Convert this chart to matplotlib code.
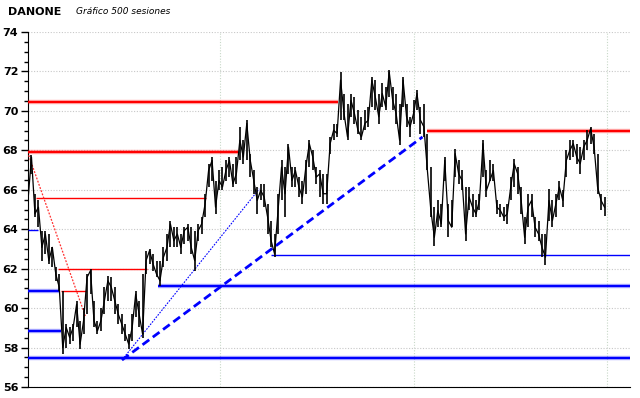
import numpy as np
import matplotlib.pyplot as plt

# === Cotizacion DANONE (una lectura cada 3 sesiones) ===
cierre = [65.46, 67.66, 64.78, 65.12, 63.08, 63.76, 62.41, 63.08, 61.73, 61.05,
          58.00, 59.02, 58.51, 59.02, 60.20, 58.17, 59.36, 61.56, 61.90, 59.36,
          58.85, 59.36, 60.37, 61.39, 61.05, 60.37, 59.69, 59.19, 58.68, 58.17,
          59.02, 60.71, 59.69, 58.68, 62.41, 62.92, 62.24, 61.73, 61.39, 62.58,
          63.08, 64.27, 63.42, 63.76, 63.08, 63.93, 64.10, 63.08, 62.41, 63.93,
          64.27, 65.29, 66.98, 67.49, 65.12, 66.47, 66.14, 66.98, 67.49, 66.30,
          66.81, 68.51, 67.66, 69.36, 67.49, 66.47, 65.46, 65.97, 65.63, 64.61,
          63.42, 62.75, 64.95, 67.15, 65.80, 68.17, 66.47, 66.98, 66.14, 65.63,
          67.15, 68.34, 67.66, 66.64, 66.81, 65.80, 65.80, 68.34, 69.02, 68.85,
          71.56, 69.86, 68.68, 70.54, 69.86, 69.02, 68.68, 69.36, 69.53, 71.56,
          70.71, 69.70, 70.88, 70.20, 71.98, 70.54, 69.86, 68.51, 71.56, 69.70,
          69.19, 69.86, 70.88, 69.53, 69.19, 66.98, 64.95, 63.59, 64.95, 64.27,
          67.49, 64.44, 64.10, 67.83, 66.81, 66.47, 63.76, 65.63, 65.12, 64.78,
          65.46, 68.34, 65.97, 66.47, 66.98, 65.12, 64.95, 64.61, 64.78, 66.14,
          67.32, 66.81, 65.46, 63.59, 65.12, 65.46, 64.10, 63.76, 63.08, 62.58,
          65.46, 64.44, 65.29, 66.14, 65.46, 67.49, 68.00, 68.34, 67.66, 67.32,
          68.17, 68.51, 69.10, 68.17, 66.14, 65.46, 65.12]

maximo = [66.14, 67.75, 65.80, 65.46, 63.93, 63.93, 63.76, 63.08, 62.07, 61.73,
          60.88, 59.19, 59.02, 59.19, 60.37, 59.36, 60.03, 61.73, 61.98, 60.37,
          59.36, 60.03, 61.05, 61.64, 61.56, 61.05, 60.20, 59.69, 59.19, 58.68,
          59.69, 60.88, 60.37, 61.73, 62.92, 63.00, 62.75, 62.41, 62.41, 63.08,
          63.76, 64.44, 64.10, 64.10, 63.76, 64.10, 64.27, 64.10, 63.93, 64.27,
          64.61, 65.80, 67.32, 67.66, 66.47, 66.98, 67.15, 67.49, 67.66, 67.32,
          67.66, 69.19, 68.51, 69.53, 67.83, 66.98, 66.14, 66.30, 66.30, 65.29,
          64.44, 63.76, 65.80, 67.49, 67.15, 68.34, 67.15, 67.15, 66.64, 66.47,
          67.49, 68.51, 68.00, 67.15, 66.98, 66.81, 66.81, 68.68, 69.36, 69.36,
          71.98, 70.88, 70.37, 70.88, 70.71, 70.03, 69.70, 70.03, 70.20, 71.73,
          71.56, 70.88, 71.39, 71.22, 72.07, 71.22, 70.88, 70.37, 71.73, 70.37,
          69.70, 70.54, 71.05, 70.20, 70.37, 68.85, 67.15, 65.12, 65.46, 65.29,
          67.66, 65.29, 65.46, 68.08, 67.49, 66.98, 66.14, 66.14, 65.80, 65.46,
          65.80, 68.51, 66.98, 67.49, 67.32, 65.46, 65.29, 65.12, 65.29, 66.64,
          67.58, 67.15, 66.14, 64.61, 65.80, 65.80, 64.61, 64.44, 63.76, 63.76,
          66.05, 65.46, 65.80, 66.47, 65.97, 68.00, 68.51, 68.51, 68.34, 68.17,
          68.51, 69.02, 69.19, 68.85, 67.83, 65.80, 65.63]

minimo = [64.61, 66.81, 64.61, 64.10, 62.41, 62.75, 62.24, 62.07, 61.39, 60.88,
          57.66, 58.00, 58.17, 58.34, 59.02, 57.92, 58.68, 59.69, 60.71, 59.02,
          58.68, 58.85, 59.69, 60.37, 60.37, 59.69, 59.19, 58.68, 58.34, 57.92,
          58.34, 59.53, 59.02, 58.51, 61.73, 62.24, 61.90, 61.56, 61.14, 62.07,
          62.41, 63.08, 63.08, 63.08, 62.75, 63.25, 63.42, 62.75, 61.90, 63.42,
          63.76, 64.61, 66.14, 66.47, 64.78, 65.97, 65.97, 66.47, 66.64, 66.14,
          66.30, 67.49, 67.32, 67.49, 66.64, 65.80, 64.78, 65.46, 65.12, 63.76,
          63.08, 62.58, 63.76, 65.46, 64.61, 66.81, 66.14, 66.14, 65.63, 65.29,
          65.80, 67.15, 66.98, 66.30, 65.63, 65.29, 65.29, 67.83, 68.51, 68.68,
          69.53, 69.53, 68.51, 69.70, 69.36, 68.85, 68.51, 69.02, 69.19, 70.20,
          70.03, 69.36, 70.20, 70.03, 70.71, 70.03, 69.36, 68.25, 70.20, 69.19,
          68.68, 69.36, 70.03, 68.85, 68.68, 66.98, 64.61, 63.17, 64.10, 64.10,
          66.47, 63.59, 64.10, 66.64, 66.30, 65.97, 63.42, 64.95, 64.61, 64.61,
          64.95, 66.64, 65.63, 66.47, 66.47, 64.78, 64.61, 64.44, 64.27, 65.46,
          66.14, 65.80, 64.78, 63.25, 64.10, 64.61, 63.59, 63.42, 62.58, 62.20,
          64.44, 64.10, 64.61, 65.46, 65.12, 66.64, 67.49, 67.66, 67.32, 66.81,
          67.49, 68.00, 68.34, 67.83, 65.80, 64.95, 64.69]
sesiones = np.arange(len(cierre)) * 3

# === Resistencias (nivel, sesion inicio, sesion fin, grueso) ===
res_nivel = [70.47, 67.90, 65.56, 61.97, 60.88, 69.00]
res_ini   = [0, 0, 7, 26, 28.5, 345]
res_fin   = [268, 181, 154, 103, 50, 520]
res_grueso = [True, True, False, False, False, True]

# === Soportes ===
sop_nivel = [57.49, 58.85, 60.88, 63.97, 61.12, 62.71]
sop_ini   = [0, 0, 0, 0, 112.5, 210]
sop_fin   = [520, 28.5, 27, 8.4, 520, 520]
sop_grueso = [True, True, True, False, True, False]

# === Directrices ===
bajista_x = [0.6, 49.5]
bajista_y = [67.75, 59.6]
alcista_x = [81.2, 340.8]
alcista_y = [57.37, 68.68]
alcista2_x = [81.2, 199.8]
alcista2_y = [57.37, 66.05]

rojo = "#ff0000"
azul = "#0000ff"

fig = plt.figure(figsize=(6.4, 3.98), dpi=100)
ax = fig.add_axes([0.04375, 0.0276, 0.9406, 0.892])

def nivel(y, x0, x1, color, grueso):
    if grueso:
        ax.hlines(y, x0, x1, color=color, lw=3.2, alpha=0.3, zorder=3)
        ax.hlines(y, x0, x1, color=color, lw=1.6, zorder=4)
    else:
        ax.hlines(y, x0, x1, color=color, lw=1.0, zorder=4)

for y, a, b, g in zip(res_nivel, res_ini, res_fin, res_grueso):
    nivel(y, a, b, rojo, g)
for y, a, b, g in zip(sop_nivel, sop_ini, sop_fin, sop_grueso):
    nivel(y, a, b, azul, g)

ax.plot(bajista_x, bajista_y, color="#ff3030", lw=0.9, ls=(0, (1.5, 1.2)), zorder=4)
ax.plot(alcista_x, alcista_y, color=azul, lw=2.0, ls=(0, (3, 1.6)), zorder=4)
ax.plot(alcista2_x, alcista2_y, color=azul, lw=0.8, ls=(0, (1.5, 1.2)), zorder=4)

# barras maximo-minimo y linea de cierre
ax.vlines(sesiones, minimo, maximo, color="black", lw=1.2, zorder=5)
ax.plot(sesiones, cierre, color="black", lw=0.9, zorder=5)

ax.set_xlim(0, 520)
ax.set_ylim(56, 74)
ax.set_yticks(np.arange(56, 75, 2))
ax.set_yticks(np.arange(56, 74.1, 0.5), minor=True)
ax.set_xticks([166, 333, 500])
ax.set_xticklabels([])
ax.tick_params(axis="x", length=0)
ax.tick_params(axis="y", which="major", length=5, width=1, pad=2, labelsize=8)
ax.tick_params(axis="y", which="minor", length=3, width=1)
for lab in ax.get_yticklabels():
    lab.set_fontweight("bold")

ax.grid(axis="y", which="major", color="#c8c8c8", ls=(0, (1, 1.5)), lw=0.8)
ax.grid(axis="x", color="#c8d8c8", ls=(0, (1, 1.5)), lw=0.8)
ax.spines["top"].set_visible(False)
ax.spines["right"].set_visible(False)

fig.text(8 / 640, 1 - 12 / 398, "DANONE", fontsize=8, fontweight="bold", va="center")
fig.text(76 / 640, 1 - 12 / 398, "Gráfico 500 sesiones", fontsize=6.5, style="italic", va="center")

plt.savefig("out.png", dpi=100)
